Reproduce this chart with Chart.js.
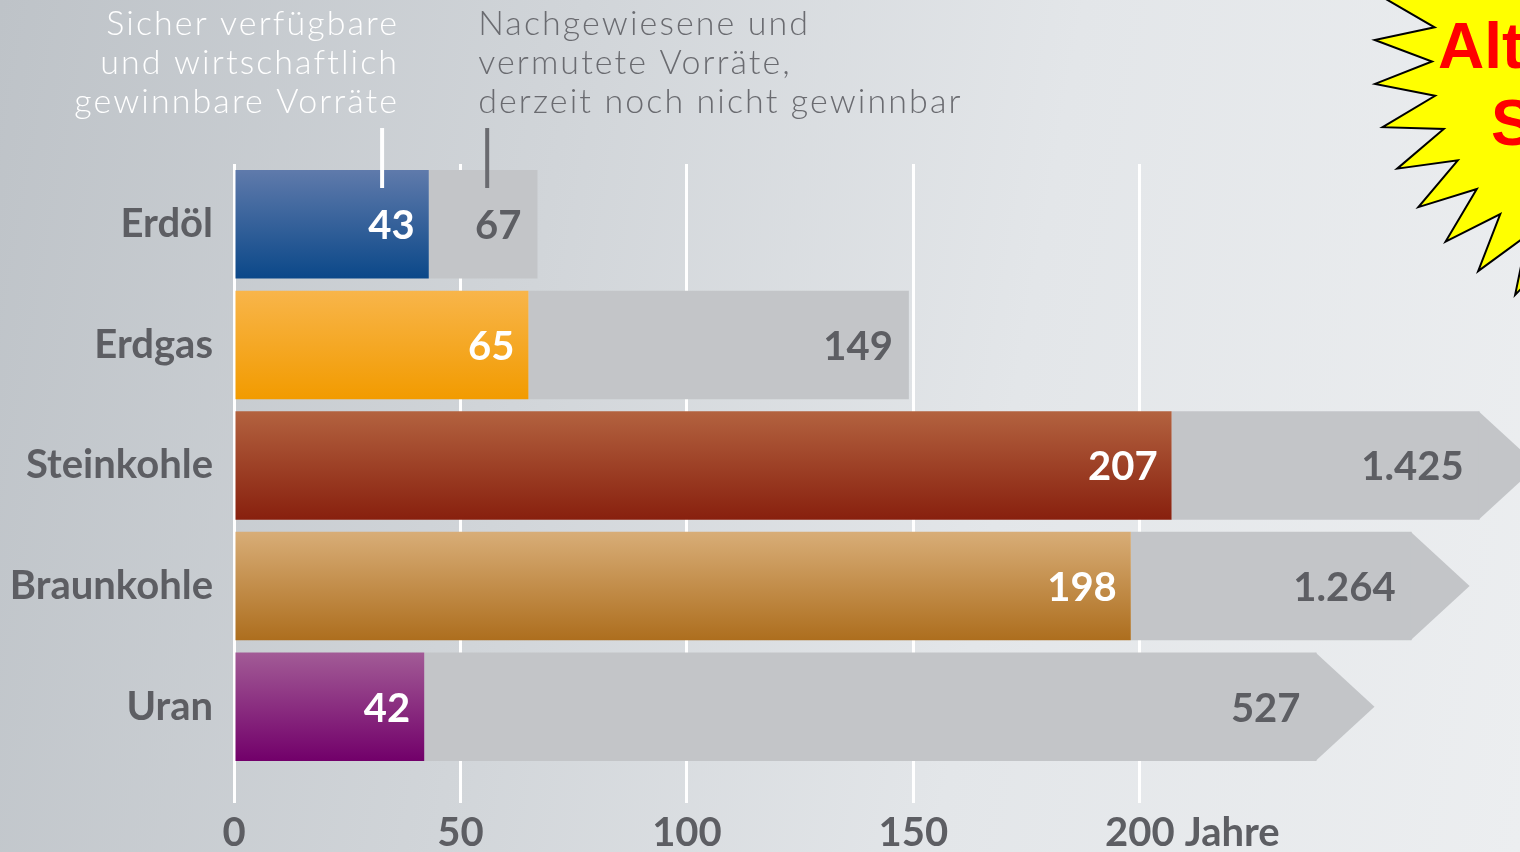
<!DOCTYPE html>
<html lang="de">
<head>
<meta charset="utf-8">
<title>Reichweite der Energierohstoffe</title>
<script src="https://cdn.jsdelivr.net/npm/chart.js@4.4.1/dist/chart.umd.min.js"></script>
<style>
  html, body { margin: 0; padding: 0; width: 1520px; height: 852px; overflow: hidden; }
  body { background: linear-gradient(100deg, #bec3c8 0%, #d1d5d9 35%, #e3e6e9 65%, #eceef0 100%); }
</style>
</head>
<body>
<canvas id="reichweiteChart" width="1520" height="852"></canvas>
<script>
// Rohstoffe (Kategorien der y-Achse)
const categories = ['Erdöl', 'Erdgas', 'Steinkohle', 'Braunkohle', 'Uran'];
// sicher verfügbare und wirtschaftlich gewinnbare Vorräte (Jahre)
const secureYears = [43, 65, 207, 198, 42];
// nachgewiesene und vermutete Vorräte (Jahre) - Beschriftung der grauen Balken
const totalYears = [67, 149, 1425, 1264, 527];
// gezeichnete Länge der grauen Balken (Jahre), lange Balken sind abgeschnitten
const drawnEnd = [67, 149, 275, 260, 239];
const brokenBar = [false, false, true, true, true];
// Beschriftung der x-Achse
const tickValues = [0, 50, 100, 150, 200];
const axisUnit = 'Jahre';

// Farben (oben / unten im Verlauf)
const colorTop = ['#5f7aab', '#f8b54a', '#b3623f', '#d8ad77', '#a25b96'];
const colorBottom = ['#0b4889', '#f29b00', '#88200e', '#ad6e1e', '#72006a'];
const greyBar = '#c3c5c8';
const textGrey = '#5d5e63';

const fmt = (v) => String(v).replace(/\B(?=(\d{3})+(?!\d))/g, '.');

function barGradient(context) {
    const chart = context.chart;
    const i = context.dataIndex;
    if (!chart.chartArea || i === undefined) return colorBottom[i] || greyBar;
    const y = chart.scales.y.getPixelForValue(i);
    const g = chart.ctx.createLinearGradient(0, y - 54, 0, y + 54);
    g.addColorStop(0, colorTop[i]);
    g.addColorStop(1, colorBottom[i]);
    return g;
}

// Zahlen in den Balken, Pfeilspitzen, Hinweistexte und Stern
const extrasPlugin = {
    id: 'extras',
    afterDatasetsDraw(chart) {
        const ctx = chart.ctx;
        const x = chart.scales.x;
        const m0 = chart.getDatasetMeta(0).data;
        const m1 = chart.getDatasetMeta(1).data;
        ctx.save();
        for (let i = 0; i < categories.length; i++) {
            const b1 = m1[i];
            const h = b1.height;
            if (brokenBar[i]) {
                const len = x.getPixelForValue(12.8) - x.getPixelForValue(0);
                ctx.fillStyle = greyBar;
                ctx.beginPath();
                ctx.moveTo(b1.x - 1, b1.y - h / 2);
                ctx.lineTo(b1.x + len, b1.y);
                ctx.lineTo(b1.x - 1, b1.y + h / 2);
                ctx.closePath();
                ctx.fill();
            }
            ctx.font = 'bold 40px Lato, sans-serif';
            ctx.textAlign = 'right';
            ctx.textBaseline = 'middle';
            ctx.fillStyle = '#ffffff';
            ctx.fillText(fmt(secureYears[i]), m0[i].x - 14, m0[i].y + 2);
            ctx.fillStyle = textGrey;
            ctx.fillText(fmt(totalYears[i]), b1.x - 16, b1.y + 2);
        }
        ctx.restore();
    },
    afterDraw(chart) {
        const ctx = chart.ctx;
        const x = chart.scales.x;
        const top = chart.getDatasetMeta(0).data[0].y - chart.getDatasetMeta(0).data[0].height / 2;
        const xw = x.getPixelForValue(32.7);
        const xg = x.getPixelForValue(55.9);
        ctx.save();
        // Hinweislinien
        ctx.lineWidth = 4;
        ctx.strokeStyle = '#ffffff';
        ctx.beginPath(); ctx.moveTo(xw, top - 42); ctx.lineTo(xw, top + 18); ctx.stroke();
        ctx.strokeStyle = '#6a6b70';
        ctx.beginPath(); ctx.moveTo(xg, top - 42); ctx.lineTo(xg, top + 18); ctx.stroke();
        // Hinweistexte
        ctx.font = '300 34px Lato, sans-serif';
        ctx.letterSpacing = '2.1px';
        ctx.textBaseline = 'alphabetic';
        ctx.fillStyle = '#ffffff';
        ctx.textAlign = 'right';
        ['Sicher verfügbare', 'und wirtschaftlich', 'gewinnbare Vorräte'].forEach((t, k) => {
            ctx.fillText(t, xw + 17, 35 + k * 39);
        });
        ctx.fillStyle = '#6a6b70';
        ctx.textAlign = 'left';
        ['Nachgewiesene und', 'vermutete Vorräte,', 'derzeit noch nicht gewinnbar'].forEach((t, k) => {
            ctx.fillText(t, xg - 9, 35 + k * 39);
        });
        ctx.letterSpacing = '0px';
        // Einheit hinter "200"
        const items = x.getLabelItems();
        const it = items.find((d) => d.label === '200');
        if (it) {
            ctx.font = 'bold 40px Lato, sans-serif';
            ctx.fillStyle = textGrey;
            ctx.textAlign = 'left';
            ctx.textBaseline = it.options.textBaseline;
            const w = ctx.measureText('200').width;
            ctx.fillText(axisUnit, it.options.translation[0] + w / 2 + 10, it.options.translation[1] + it.textOffset);
        }
        // Stern oben rechts
        const cx = 1640, cy = 60, ro = 266, ri = 208, n = 38;
        const a0 = 118 * Math.PI / 180;
        ctx.beginPath();
        for (let k = 0; k < n * 2; k++) {
            const a = a0 + k * Math.PI / n;
            const r = k % 2 === 0 ? ro : ri;
            const px = cx + r * Math.cos(a), py = cy + r * Math.sin(a);
            if (k === 0) ctx.moveTo(px, py); else ctx.lineTo(px, py);
        }
        ctx.closePath();
        ctx.fillStyle = '#ffff00';
        ctx.fill();
        ctx.lineWidth = 2;
        ctx.strokeStyle = '#000000';
        ctx.stroke();
        ctx.fillStyle = '#ff0000';
        ctx.font = 'bold 64px "Liberation Sans", Arial, sans-serif';
        ctx.textAlign = 'left';
        ctx.textBaseline = 'alphabetic';
        ctx.fillText('Alt', 1438, 68);
        ctx.fillText('S', 1491, 145);
        ctx.restore();
    }
};

new Chart(document.getElementById('reichweiteChart').getContext('2d'), {
    type: 'bar',
    data: {
        labels: categories,
        datasets: [
            {
                label: 'Sicher verfügbare und wirtschaftlich gewinnbare Vorräte',
                data: secureYears,
                backgroundColor: barGradient,
                borderWidth: 0,
                barPercentage: 0.9,
                categoryPercentage: 1
            },
            {
                label: 'Nachgewiesene und vermutete Vorräte',
                data: drawnEnd.map((v, i) => v - secureYears[i]),
                backgroundColor: greyBar,
                borderWidth: 0,
                barPercentage: 0.9,
                categoryPercentage: 1
            }
        ]
    },
    options: {
        indexAxis: 'y',
        responsive: false,
        animation: false,
        layout: { padding: { top: 164, left: 0, right: 0, bottom: 0 } },
        plugins: { legend: { display: false }, tooltip: { enabled: false } },
        scales: {
            x: {
                stacked: true,
                min: 0,
                max: 282.6,
                border: { display: false },
                afterFit: (s) => { s.height = 85; },
                grid: {
                    color: (c) => (c.tick && tickValues.includes(c.tick.value)) ? '#ffffff' : 'rgba(0,0,0,0)',
                    lineWidth: 3,
                    drawTicks: true,
                    tickLength: 36
                },
                ticks: {
                    stepSize: 50,
                    autoSkip: false,
                    maxRotation: 0,
                    padding: 6,
                    color: textGrey,
                    font: { family: 'Lato, sans-serif', weight: 'bold', size: 40 },
                    callback: (v) => tickValues.includes(v) ? String(v) : ''
                }
            },
            y: {
                stacked: true,
                border: { display: false },
                grid: { display: false },
                afterFit: (s) => { s.width = 234; },
                ticks: {
                    padding: 13,
                    color: textGrey,
                    font: { family: 'Lato, sans-serif', weight: 'bold', size: 40 }
                }
            }
        }
    },
    plugins: [extrasPlugin]
});
</script>
</body>
</html>
